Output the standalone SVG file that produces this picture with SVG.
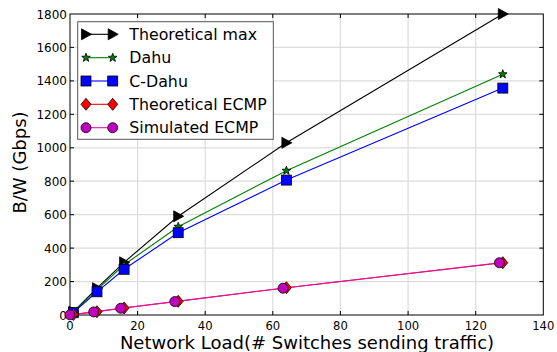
<svg xmlns="http://www.w3.org/2000/svg" xmlns:xlink="http://www.w3.org/1999/xlink" width="557" height="352" viewBox="0 0 557 352">
<style>
  text { font-family: "DejaVu Sans", "Liberation Sans", sans-serif; fill: #000; }
  .tick { font-size: 12px; }
  .xt { font-size: 11.6px; }
  .lab { font-size: 18px; }
  .leg { font-size: 15.8px; }
  .grid { stroke: #dcdcdc; stroke-width: 1.2; fill: none; }
  .tk { stroke: #000; stroke-width: 1; }
  .ln { fill: none; stroke-width: 1.1; }
</style>
<defs>
  <polygon id="tri" points="-4.5,-5.5 5.5,0 -4.5,5.5" fill="#000" stroke="#000" stroke-width="0.8"/>
  <polygon id="star" points="0,-4.5 1.1,-1.5 4.3,-1.4 1.8,0.6 2.7,3.7 0,1.9 -2.7,3.7 -1.8,0.6 -4.3,-1.4 -1.1,-1.5" fill="#008000" stroke="#000" stroke-width="0.8"/>
  <rect id="sq" x="-5" y="-5" width="10" height="10" fill="#0000ff" stroke="#000" stroke-width="0.8"/>
  <polygon id="dia" points="0,-6 5,0 0,6 -5,0" fill="#ff0000" stroke="#000" stroke-width="0.8"/>
  <circle id="cir" r="5" fill="#bf00bf" stroke="#000" stroke-width="0.8"/>
</defs>
<rect width="557" height="352" fill="#fff"/>

<g id="grid">
  <path class="grid" d="M137.6,14V315M205.2,14V315M272.8,14V315M340.4,14V315M408.1,14V315M475.7,14V315M70,281.6H543.3M70,248.1H543.3M70,214.7H543.3M70,181.2H543.3M70,147.8H543.3M70,114.3H543.3M70,80.9H543.3M70,47.4H543.3"/>
</g>

<g id="axes">
  <rect x="70" y="14" width="473.3" height="301" fill="none" stroke="#000" stroke-width="1"/>
  <path class="tk" d="M137.6,315v-4M205.2,315v-4M272.8,315v-4M340.4,315v-4M408.1,315v-4M475.7,315v-4M137.6,14v4M205.2,14v4M272.8,14v4M340.4,14v4M408.1,14v4M475.7,14v4M70,281.6h4M70,248.1h4M70,214.7h4M70,181.2h4M70,147.8h4M70,114.3h4M70,80.9h4M70,47.4h4M543.3,281.6h-4M543.3,248.1h-4M543.3,214.7h-4M543.3,181.2h-4M543.3,147.8h-4M543.3,114.3h-4M543.3,80.9h-4M543.3,47.4h-4"/>
  <g class="tick" text-anchor="end">
    <text x="67" y="319.5">0</text>
    <text x="67" y="286">200</text>
    <text x="67" y="252.5">400</text>
    <text x="67" y="219">600</text>
    <text x="67" y="185.5">800</text>
    <text x="67" y="152">1000</text>
    <text x="67" y="118.5">1200</text>
    <text x="67" y="85">1400</text>
    <text x="67" y="51.5">1600</text>
    <text x="67" y="18.5">1800</text>
  </g>
  <g class="xt" text-anchor="middle">
    <text x="70" y="329.5">0</text>
    <text x="137.6" y="329.5">20</text>
    <text x="205.2" y="329.5">40</text>
    <text x="272.8" y="329.5">60</text>
    <text x="340.4" y="329.5">80</text>
    <text x="408.1" y="329.5">100</text>
    <text x="475.7" y="329.5">120</text>
    <text x="543.3" y="329.5">140</text>
  </g>
  <text class="lab" x="307" y="348.6" text-anchor="middle">Network Load(# Switches sending traffic)</text>
  <text class="lab" transform="translate(25.5,162.5) rotate(-90)" text-anchor="middle">B/W (Gbps)</text>
</g>

<g id="connectors">
  <polyline id="line-tmax" class="ln" stroke="#000" points="73.4,311.7 97,288.2 124.1,262.3 178.2,216.3 286.4,142.8 502.8,14"/>
  <polyline id="line-dahu" class="ln" stroke="#008000" points="73.4,312 97,289.9 124.1,264.8 178.2,226.7 286.4,170.7 502.8,74.2"/>
  <polyline id="line-cdahu" class="ln" stroke="#0000ff" points="73.4,312.5 97,291.8 124.1,269.3 178.2,232.7 286.4,180.1 502.8,88.1"/>
  <polyline id="line-tecmp" class="ln" stroke="#ff0000" points="73.4,314.5 97,311.7 124.1,308 178.2,301.3 286.4,287.7 502.8,262.7"/>
  <polyline id="line-secmp" class="ln" stroke="#e010b0" points="70,314.8 93.7,311.9 120.7,308.3 174.8,301.6 283,288.2 499.4,262.8"/>
</g>

<g id="series-tmax">
  <use xlink:href="#tri" x="73.4" y="311.7"/><use xlink:href="#tri" x="97" y="288.2"/><use xlink:href="#tri" x="124.1" y="262.3"/><use xlink:href="#tri" x="178.2" y="216.3"/><use xlink:href="#tri" x="286.4" y="142.8"/><use xlink:href="#tri" x="502.8" y="14"/>
</g>
<g id="series-dahu">
  <use xlink:href="#star" x="73.4" y="312"/><use xlink:href="#star" x="97" y="289.9"/><use xlink:href="#star" x="124.1" y="264.8"/><use xlink:href="#star" x="178.2" y="226.7"/><use xlink:href="#star" x="286.4" y="170.7"/><use xlink:href="#star" x="502.8" y="74.2"/>
</g>
<g id="series-cdahu">
  <use xlink:href="#sq" x="73.4" y="312.5"/><use xlink:href="#sq" x="97" y="291.8"/><use xlink:href="#sq" x="124.1" y="269.3"/><use xlink:href="#sq" x="178.2" y="232.7"/><use xlink:href="#sq" x="286.4" y="180.1"/><use xlink:href="#sq" x="502.8" y="88.1"/>
</g>
<g id="series-tecmp">
  <use xlink:href="#dia" x="73.4" y="314.5"/><use xlink:href="#dia" x="97" y="311.7"/><use xlink:href="#dia" x="124.1" y="308"/><use xlink:href="#dia" x="178.2" y="301.3"/><use xlink:href="#dia" x="286.4" y="287.7"/><use xlink:href="#dia" x="502.8" y="262.7"/>
</g>
<g id="series-secmp">
  <use xlink:href="#cir" x="70" y="314.8"/><use xlink:href="#cir" x="93.7" y="311.9"/><use xlink:href="#cir" x="120.7" y="308.3"/><use xlink:href="#cir" x="174.8" y="301.6"/><use xlink:href="#cir" x="283" y="288.2"/><use xlink:href="#cir" x="499.4" y="262.8"/>
</g>

<g id="legend">
  <rect x="77.7" y="21.7" width="195.6" height="117.6" fill="#fff" stroke="#555" stroke-width="1"/>
  <g id="leg-tmax">
    <line x1="86" y1="34.3" x2="112.7" y2="34.3" stroke="#000" stroke-width="1.1"/>
    <use xlink:href="#tri" x="86" y="34.3"/><use xlink:href="#tri" x="112.7" y="34.3"/>
    <text class="leg" x="129.3" y="40">Theoretical max</text>
  </g>
  <g id="leg-dahu">
    <line x1="86" y1="57.7" x2="112.7" y2="57.7" stroke="#008000" stroke-width="1.1"/>
    <use xlink:href="#star" x="86" y="57.7"/><use xlink:href="#star" x="112.7" y="57.7"/>
    <text class="leg" x="129.3" y="63.3">Dahu</text>
  </g>
  <g id="leg-cdahu">
    <line x1="86" y1="81" x2="112.7" y2="81" stroke="#0000ff" stroke-width="1.1"/>
    <use xlink:href="#sq" x="86" y="81"/><use xlink:href="#sq" x="112.7" y="81"/>
    <text class="leg" x="129.3" y="86.7">C-Dahu</text>
  </g>
  <g id="leg-tecmp">
    <line x1="86" y1="104.3" x2="112.7" y2="104.3" stroke="#ff0000" stroke-width="1.1"/>
    <use xlink:href="#dia" x="86" y="104.3"/><use xlink:href="#dia" x="112.7" y="104.3"/>
    <text class="leg" x="129.3" y="110">Theoretical ECMP</text>
  </g>
  <g id="leg-secmp">
    <line x1="86" y1="127.7" x2="112.7" y2="127.7" stroke="#e010b0" stroke-width="1.1"/>
    <use xlink:href="#cir" x="86" y="127.7"/><use xlink:href="#cir" x="112.7" y="127.7"/>
    <text class="leg" x="129.3" y="133.3">Simulated ECMP</text>
  </g>
</g>
</svg>
